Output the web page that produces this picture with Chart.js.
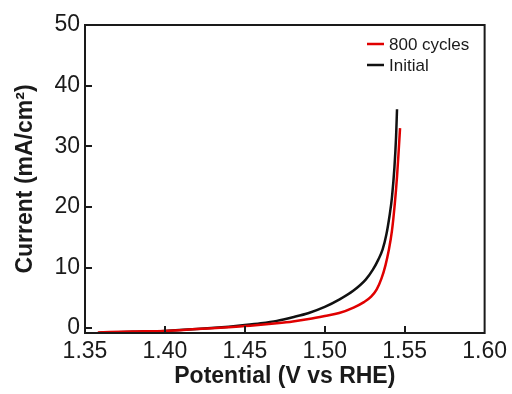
<!DOCTYPE html>
<html>
<head>
<meta charset="utf-8">
<script src="https://cdn.jsdelivr.net/npm/chart.js@4.4.1/dist/chart.umd.min.js"></script>
<style>
  html, body { margin: 0; padding: 0; background: #ffffff; }
  #wrap { width: 512px; height: 394px; }
</style>
</head>
<body>
<div id="wrap"><canvas id="lsv"></canvas></div>
<script>
// polarisation curves, potential (V vs RHE) -> current density (mA/cm2)
const initialPotential = [1.359, 1.38, 1.40, 1.42, 1.44, 1.45, 1.46, 1.47, 1.48, 1.49, 1.50, 1.509, 1.518, 1.5256, 1.5300, 1.5335, 1.5362, 1.5385, 1.5405, 1.5420, 1.5436, 1.5446, 1.5452];
const initialCurrent   = [-0.75, -0.6, -0.45, -0.15, 0.25, 0.5, 0.8, 1.2, 1.8, 2.5, 3.5, 4.7, 6.2, 8.0, 9.6, 11.3, 13.0, 15.4, 18.5, 21.5, 26.6, 31.5, 36.1];

const cycledPotential = [1.358, 1.38, 1.40, 1.42, 1.44, 1.45, 1.46, 1.47, 1.48, 1.49, 1.50, 1.509, 1.518, 1.5245, 1.5290, 1.5325, 1.5355, 1.5380, 1.5400, 1.5420, 1.5438, 1.5452, 1.5463, 1.5471];
const cycledCurrent   = [-0.7, -0.55, -0.45, -0.15, 0.15, 0.35, 0.55, 0.8, 1.1, 1.5, 2.0, 2.5, 3.4, 4.3, 5.2, 6.4, 8.2, 10.4, 12.8, 16.0, 20.5, 25.0, 29.5, 33.0];

const xTicks = [1.35, 1.40, 1.45, 1.50, 1.55, 1.60];
const yTicks = [0, 10, 20, 30, 40, 50];

const toPoints = (xs, ys) => xs.map((x, i) => ({ x: x, y: ys[i] }));

const ink = '#1a1a1a';
const tickFont = { family: '"Liberation Sans", Arial, sans-serif', size: 23 };
const titleFont = { family: '"Liberation Sans", Arial, sans-serif', size: 23, weight: 'bold' };

// frame, inward tick marks and the little line legend
const framePlugin = {
    id: 'frame',
    afterDatasetsDraw(chart) {
        const { ctx, chartArea: a, scales } = chart;
        ctx.save();
        ctx.strokeStyle = ink;
        ctx.lineWidth = 2;
        ctx.strokeRect(a.left, a.top, a.right - a.left, a.bottom - a.top);

        ctx.beginPath();
        xTicks.slice(1, -1).forEach(v => {
            const px = Math.round(scales.x.getPixelForValue(v));
            ctx.moveTo(px, a.bottom);
            ctx.lineTo(px, a.bottom - 7);
        });
        yTicks.slice(0, -1).forEach(v => {
            const py = Math.round(scales.y.getPixelForValue(v));
            ctx.moveTo(a.left, py);
            ctx.lineTo(a.left + 7, py);
        });
        ctx.stroke();

        // legend
        ctx.font = '17px "Liberation Sans", Arial, sans-serif';
        ctx.textBaseline = 'middle';
        ctx.fillStyle = ink;
        chart.data.datasets.forEach((ds, i) => {
            const y = 44 + i * 21;
            ctx.strokeStyle = ds.borderColor;
            ctx.lineWidth = 2.5;
            ctx.beginPath();
            ctx.moveTo(367, y);
            ctx.lineTo(384, y);
            ctx.stroke();
            ctx.fillText(ds.label, 389, y + 1);
        });
        ctx.restore();
    }
};

new Chart(document.getElementById('lsv').getContext('2d'), {
    type: 'scatter',
    data: {
        datasets: [
            {
                label: '800 cycles',
                data: toPoints(cycledPotential, cycledCurrent),
                borderColor: '#e00000',
                borderWidth: 2.5,
                showLine: true,
                pointRadius: 0,
                cubicInterpolationMode: 'monotone'
            },
            {
                label: 'Initial',
                data: toPoints(initialPotential, initialCurrent),
                borderColor: '#111111',
                borderWidth: 2.5,
                showLine: true,
                pointRadius: 0,
                cubicInterpolationMode: 'monotone'
            }
        ]
    },
    options: {
        responsive: true,
        maintainAspectRatio: false,
        animation: false,
        layout: { padding: { left: 0, right: 26, top: 25, bottom: 0 } },
        plugins: {
            legend: { display: false },
            tooltip: { enabled: false }
        },
        scales: {
            x: {
                type: 'linear',
                min: 1.35,
                max: 1.60,
                afterBuildTicks: s => { s.ticks = xTicks.map(v => ({ value: v })); },
                afterFit: s => { s.height = 61; },
                grid: { display: false, drawTicks: false },
                border: { display: false },
                ticks: {
                    color: ink,
                    font: tickFont,
                    padding: 5,
                    maxRotation: 0,
                    callback: v => v.toFixed(2)
                },
                title: {
                    display: true,
                    text: 'Potential (V vs RHE)',
                    color: ink,
                    font: titleFont,
                    padding: { top: 0, bottom: 4 }
                }
            },
            y: {
                type: 'linear',
                min: -0.8,
                max: 50,
                afterBuildTicks: s => { s.ticks = yTicks.map(v => ({ value: v })); },
                afterFit: s => { s.width = 85; },
                grid: { display: false, drawTicks: false },
                border: { display: false },
                ticks: {
                    color: ink,
                    font: tickFont,
                    padding: 5
                },
                title: {
                    display: true,
                    text: 'Current (mA/cm²)',
                    color: ink,
                    font: titleFont,
                    padding: { top: 12, bottom: 0 }
                }
            }
        }
    },
    plugins: [framePlugin]
});
</script>
</body>
</html>
